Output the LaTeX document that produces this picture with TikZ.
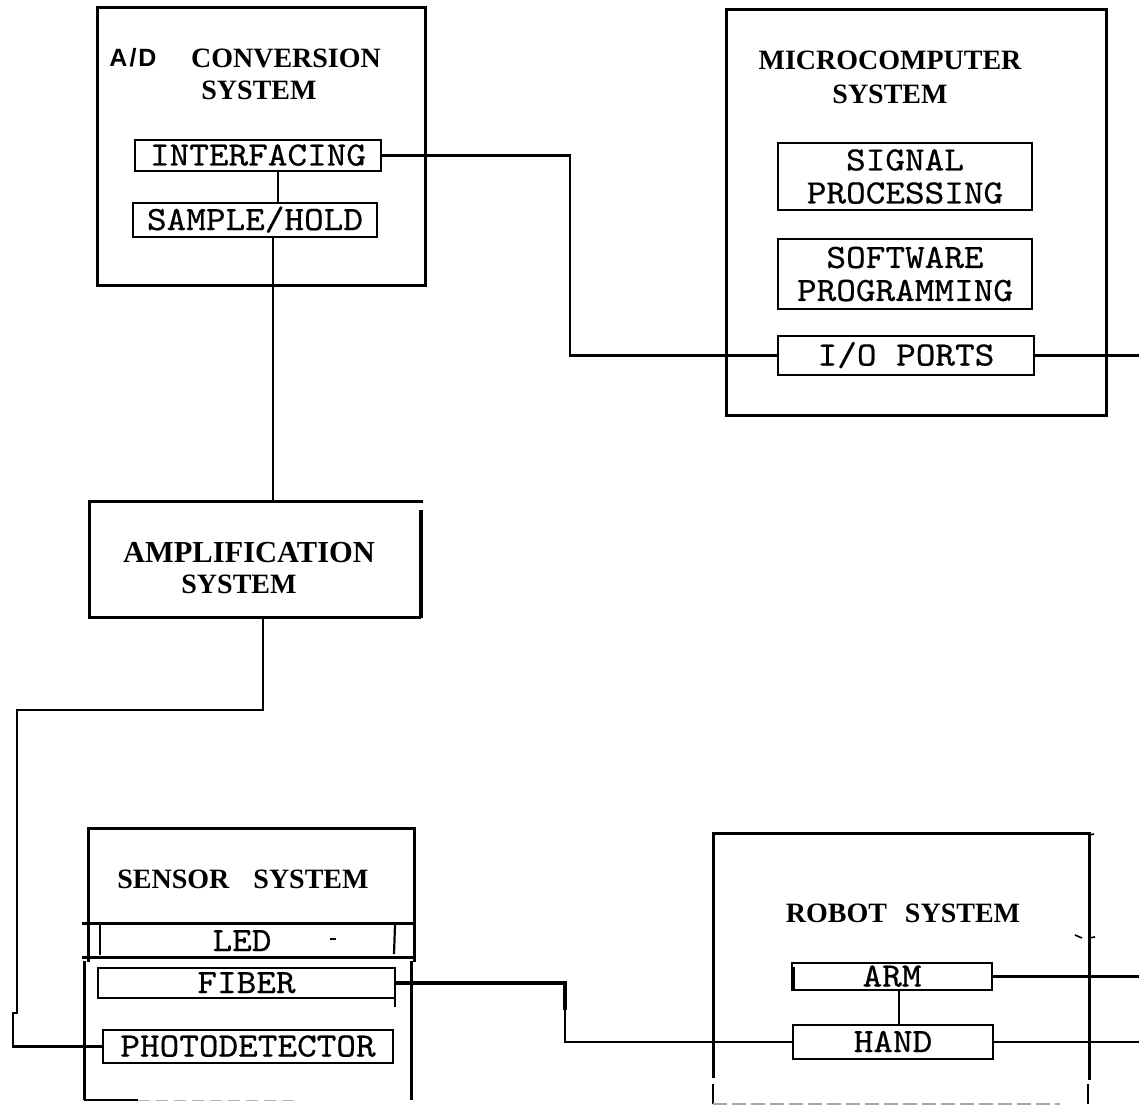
\documentclass[tikz,border=0pt]{standalone}
\usepackage{fontspec}
\setmainfont{Liberation Serif}
\newfontfamily\monof[FakeStretch=1.1,FakeBold=0.6]{lmmono10-regular.otf}
\newfontfamily\sansf{Liberation Sans}
\usetikzlibrary{calc}
\tikzset{
  outer/.style={draw, line width=3pt},
  frame/.style={line width=3pt},
  ibox/.style={draw, line width=2pt, inner sep=0pt, align=center,
    font=\monof\fontsize{34}{33}\selectfont},
  oneline/.style={text height=20pt, text depth=0pt},
  mono/.style={inner sep=0pt, font=\monof\fontsize{34}{33}\selectfont, text height=20pt, text depth=0pt},
  title/.style={inner sep=0pt, anchor=base, font=\bfseries\fontsize{28}{34}\selectfont},
  wire/.style={line width=2.6pt},
}
\begin{document}
\begin{tikzpicture}[x=1pt,y=-1pt]
\useasboundingbox (0,0) rectangle (1139,1110);
\fill[white] (0,0) rectangle (1139,1110);

% ---------- A/D conversion system ----------
\node[outer, minimum width=328pt, minimum height=277pt] (adbox) at (261,146.5) {};
\node[title, font=\sansf\bfseries\fontsize{25}{30}\selectfont] (tad) at (133,67) {A\hspace{2pt}/\hspace{2pt}D};
\node[title] (tconv) at (286,68) {CONVERSION};
\node[title] (tadsys) at (259,100) {SYSTEM};
\node[ibox, oneline, minimum width=246pt, minimum height=31pt] (intf) at (258,155.5) {INTERFACING};
\node[ibox, oneline, minimum width=244pt, minimum height=34pt] (samp) at (255,220) {SAMPLE/HOLD};

% ---------- Microcomputer system ----------
\node[outer, minimum width=380pt, minimum height=405pt] (micro) at (916,212.5) {};
\node[title] (tmicro) at (890,70) {MICROCOMPUTER};
\node[title] (tmicsys) at (890,104) {SYSTEM};
\node[ibox, minimum width=254pt, minimum height=67pt] (sig) at (905,176.5) {SIGNAL\\PROCESSING};
\node[ibox, minimum width=254pt, minimum height=70pt] (soft) at (905,274) {SOFTWARE\\PROGRAMMING};
\node[ibox, oneline, minimum width=256pt, minimum height=39pt] (io) at (906,355.5) {I/O PORTS};

% ---------- Amplification system ----------
\node[minimum width=331pt, minimum height=115pt, inner sep=0pt] (amp) at (255.5,559.5) {};
\draw[frame] ($(amp.north east)+(2,0)$) -- (amp.north west) -- (amp.south west) -- (amp.south east);
\draw[line width=3.6pt] ($(amp.north east)+(0,8)$) -- ($(amp.south east)+(0,1)$);
\node[title, font=\bfseries\fontsize{30.5}{36}\selectfont] (tamp) at (249,562) {AMPLIFICATION};
\node[title, font=\bfseries\fontsize{28}{34}\selectfont] (tampsys) at (239,593) {SYSTEM};

% ---------- Sensor system ----------
\draw[frame] (88,962) -- (88,828) -- (414,828) -- (414,962);
\node[title] (tsens) at (243,888) {SENSOR\hspace{24pt}SYSTEM};
\draw[frame] (82,923) -- (414,923);
\draw[frame] (82,957) -- (414,957);
\draw[line width=1.2pt] (100,924) -- (100,955);
\draw[line width=2.2pt] (395,925) -- (394,954);
\node[mono] (led) at (242,941) {LED};
\fill (330,938) rectangle (336,940);
\draw[frame] (84,961) -- (84,1100);
\draw[frame] (411,961) -- (411,1100);
\draw[line width=1.5pt] (84,1100) -- (138,1100);
\draw[gray!60, line width=1pt, dash pattern=on 12pt off 6pt] (138,1100) -- (300,1100);
\node[ibox, oneline, minimum width=297pt, minimum height=30pt] (fiber) at (246.5,983) {FIBER};
\draw[line width=2pt] ($(fiber.south east)+(-1,0)$) -- ++(0,8);
\node[ibox, oneline, minimum width=290pt, minimum height=33pt] (photo) at (248,1046.5) {PHOTODETECTOR};

% ---------- Robot system ----------
\draw[frame] (713,1078) -- (713,833) -- (1089,833) -- (1089,1080);
\draw[line width=1.6pt] (713,1084) -- (713,1104);
\draw[line width=1.6pt] (1088,1084) -- (1088,1104);
\draw[gray!70, line width=1.2pt, dash pattern=on 14pt off 5pt] (713,1104) -- (1060,1104);
\draw[line width=1.6pt] (1089,835) -- (1094,834);
\draw[line width=1.6pt] (1075,935) -- (1082,938);
\draw[line width=1.6pt] (1089,938) -- (1095,937);
\node[title] (trobot) at (903,922) {ROBOT\hspace{18pt}SYSTEM};
\node[ibox, oneline, minimum width=200pt, minimum height=27pt] (arm) at (892,976.5) {ARM};
\draw[line width=4.5pt] ($(arm.north west)+(2,5)$) -- ($(arm.south west)+(2,-2)$);
\node[ibox, oneline, minimum width=200pt, minimum height=34pt] (hand) at (893,1042) {HAND};

% ---------- coordinates ----------
\coordinate (bendA) at (570,250);
\coordinate (ioOut) at (1139,355.5);
\coordinate (bendC) at (17,710);
\coordinate (jogA) at (17,1013);
\coordinate (jogB) at (13,1013);
\coordinate (bendB) at (565,1010);
\coordinate (armOut) at (1139,976.5);
\coordinate (handOut) at (1139,1042);

% ---------- connectors ----------
\draw[wire] ($(intf.south)+(20,0)$) -- ($(samp.north)+(23,0)$);
\draw[wire] ($(samp.south)+(18,0)$) -- ($(amp.north)+(17.5,0)$);
\draw[wire] (intf.east) -| (bendA) |- (io.west);
\draw[wire] (io.east) -- (ioOut);
\draw[wire] ($(amp.south)+(7.5,0)$) |- (bendC) -- (jogA) -- (jogB) |- (photo.west);
\draw[line width=3.6pt] (fiber.east) -| (bendB);
\draw[wire] (bendB) |- (hand.west);
\draw[wire] (arm.east) -- (armOut);
\draw[wire] (hand.east) -- (handOut);
\draw[wire] ($(arm.south)+(7,0)$) -- ($(hand.north)+(6,0)$);
\end{tikzpicture}
\end{document}
